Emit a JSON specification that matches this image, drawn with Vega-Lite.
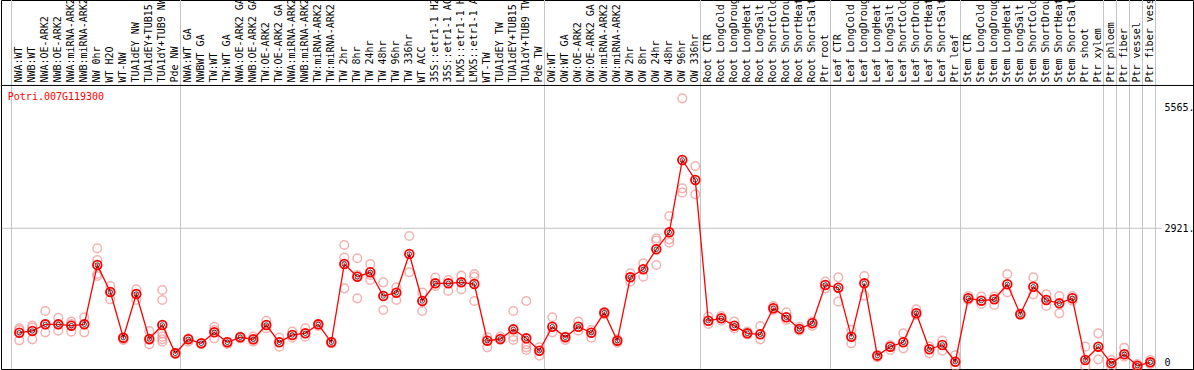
{
  "$schema": "https://vega.github.io/schema/vega-lite/v6.json",
  "width": 1192,
  "height": 369,
  "autosize": {"type": "none"},
  "padding": {"left": 1, "right": 1, "top": 0, "bottom": 1},
  "background": "white",
  "config": {
    "view": {"stroke": "black", "strokeWidth": 1},
    "axis": {"labelFont": "DejaVu Sans Mono", "labelFontSize": 10, "labelColor": "black"}
  },
  "data": {"values": [
      {"sample": "NWA:WT", "kind": "mean", "value": 797},
      {"sample": "NWB:WT", "kind": "mean", "value": 832},
      {"sample": "NWA:OE-ARK2", "kind": "mean", "value": 968},
      {"sample": "NWB:OE-ARK2", "kind": "mean", "value": 968},
      {"sample": "NWA:miRNA-ARK2", "kind": "mean", "value": 940},
      {"sample": "NWB:miRNA-ARK2", "kind": "mean", "value": 968},
      {"sample": "NW 0hr", "kind": "mean", "value": 2174},
      {"sample": "WT H2O", "kind": "mean", "value": 1625},
      {"sample": "WT-NW", "kind": "mean", "value": 696},
      {"sample": "TUA1dEY NW", "kind": "mean", "value": 1584},
      {"sample": "TUA1dEY+TUB15 NW", "kind": "mean", "value": 669},
      {"sample": "TUA1dY+TUB9 NW", "kind": "mean", "value": 954},
      {"sample": "Pde NW", "kind": "mean", "value": 378},
      {"sample": "NWA:WT GA", "kind": "mean", "value": 663},
      {"sample": "NWBWT GA", "kind": "mean", "value": 582},
      {"sample": "TW:WT", "kind": "mean", "value": 805},
      {"sample": "TW:WT GA", "kind": "mean", "value": 602},
      {"sample": "NWA:OE-ARK2 GA", "kind": "mean", "value": 704},
      {"sample": "NWB:OE-ARK2 GA", "kind": "mean", "value": 663},
      {"sample": "TW:OE-ARK2", "kind": "mean", "value": 954},
      {"sample": "TW:OE-ARK2 GA", "kind": "mean", "value": 602},
      {"sample": "NWA:miRNA-ARK2 GA", "kind": "mean", "value": 751},
      {"sample": "NWB:miRNA-ARK2 GA", "kind": "mean", "value": 785},
      {"sample": "TW:miRNA-ARK2", "kind": "mean", "value": 968},
      {"sample": "TW:miRNA-ARK2 GA", "kind": "mean", "value": 602},
      {"sample": "TW 2hr", "kind": "mean", "value": 2195},
      {"sample": "TW 8hr", "kind": "mean", "value": 1936},
      {"sample": "TW 24hr", "kind": "mean", "value": 2026},
      {"sample": "TW 48hr", "kind": "mean", "value": 1544},
      {"sample": "TW 96hr", "kind": "mean", "value": 1611},
      {"sample": "TW 336hr", "kind": "mean", "value": 2398},
      {"sample": "WT ACC", "kind": "mean", "value": 1442},
      {"sample": "35S::etr1-1 H2O", "kind": "mean", "value": 1802},
      {"sample": "35S::etr1-1 ACC", "kind": "mean", "value": 1802},
      {"sample": "LMX5::etr1-1 H2O", "kind": "mean", "value": 1822},
      {"sample": "LMX5::etr1-1 ACC", "kind": "mean", "value": 1788},
      {"sample": "WT-TW", "kind": "mean", "value": 635},
      {"sample": "TUA1dEY TW", "kind": "mean", "value": 669},
      {"sample": "TUA1dEY+TUB15 TW", "kind": "mean", "value": 866},
      {"sample": "TUA1dY+TUB9 TW", "kind": "mean", "value": 683},
      {"sample": "Pde TW", "kind": "mean", "value": 431},
      {"sample": "OW:WT", "kind": "mean", "value": 919},
      {"sample": "OW:WT GA", "kind": "mean", "value": 704},
      {"sample": "OW:OE-ARK2", "kind": "mean", "value": 919},
      {"sample": "OW:OE-ARK2 GA", "kind": "mean", "value": 797},
      {"sample": "OW:miRNA-ARK2", "kind": "mean", "value": 1204},
      {"sample": "OW:miRNA-ARK2 GA", "kind": "mean", "value": 635},
      {"sample": "OW 2hr", "kind": "mean", "value": 1924},
      {"sample": "OW 8hr", "kind": "mean", "value": 2087},
      {"sample": "OW 24hr", "kind": "mean", "value": 2494},
      {"sample": "OW 48hr", "kind": "mean", "value": 2839},
      {"sample": "OW 96hr", "kind": "mean", "value": 4310},
      {"sample": "OW 336hr", "kind": "mean", "value": 3903},
      {"sample": "Root CTR", "kind": "mean", "value": 1041},
      {"sample": "Root LongCold", "kind": "mean", "value": 1090},
      {"sample": "Root LongDrought", "kind": "mean", "value": 940},
      {"sample": "Root LongHeat", "kind": "mean", "value": 785},
      {"sample": "Root LongSalt", "kind": "mean", "value": 765},
      {"sample": "Root ShortCold", "kind": "mean", "value": 1294},
      {"sample": "Root ShortDrought", "kind": "mean", "value": 1111},
      {"sample": "Root ShortHeat", "kind": "mean", "value": 873},
      {"sample": "Root ShortSalt", "kind": "mean", "value": 989},
      {"sample": "Ptr root", "kind": "mean", "value": 1768},
      {"sample": "Leaf CTR", "kind": "mean", "value": 1713},
      {"sample": "Leaf LongCold", "kind": "mean", "value": 716},
      {"sample": "Leaf LongDrought", "kind": "mean", "value": 1802},
      {"sample": "Leaf LongHeat", "kind": "mean", "value": 330},
      {"sample": "Leaf LongSalt", "kind": "mean", "value": 513},
      {"sample": "Leaf ShortCold", "kind": "mean", "value": 602},
      {"sample": "Leaf ShortDrought", "kind": "mean", "value": 1192},
      {"sample": "Leaf ShortHeat", "kind": "mean", "value": 460},
      {"sample": "Leaf ShortSalt", "kind": "mean", "value": 547},
      {"sample": "Ptr leaf", "kind": "mean", "value": 207},
      {"sample": "Stem CTR", "kind": "mean", "value": 1497},
      {"sample": "Stem LongCold", "kind": "mean", "value": 1448},
      {"sample": "Stem LongDrought", "kind": "mean", "value": 1477},
      {"sample": "Stem LongHeat", "kind": "mean", "value": 1782},
      {"sample": "Stem LongSalt", "kind": "mean", "value": 1172},
      {"sample": "Stem ShortCold", "kind": "mean", "value": 1733},
      {"sample": "Stem ShortDrought", "kind": "mean", "value": 1462},
      {"sample": "Stem ShortHeat", "kind": "mean", "value": 1395},
      {"sample": "Stem ShortSalt", "kind": "mean", "value": 1497},
      {"sample": "Ptr shoot", "kind": "mean", "value": 242},
      {"sample": "Ptr xylem", "kind": "mean", "value": 513},
      {"sample": "Ptr phloem", "kind": "mean", "value": 175},
      {"sample": "Ptr fiber", "kind": "mean", "value": 358},
      {"sample": "Ptr vessel", "kind": "mean", "value": 126},
      {"sample": "Ptr fiber vessel", "kind": "mean", "value": 195},

      {"sample": "NWA:WT", "kind": "rep", "value": 887},
      {"sample": "NWA:WT", "kind": "rep", "value": 852},
      {"sample": "NWA:WT", "kind": "rep", "value": 643},
      {"sample": "NWB:WT", "kind": "rep", "value": 940},
      {"sample": "NWB:WT", "kind": "rep", "value": 899},
      {"sample": "NWB:WT", "kind": "rep", "value": 663},
      {"sample": "NWA:OE-ARK2", "kind": "rep", "value": 1239},
      {"sample": "NWA:OE-ARK2", "kind": "rep", "value": 968},
      {"sample": "NWA:OE-ARK2", "kind": "rep", "value": 805},
      {"sample": "NWB:OE-ARK2", "kind": "rep", "value": 1102},
      {"sample": "NWB:OE-ARK2", "kind": "rep", "value": 968},
      {"sample": "NWB:OE-ARK2", "kind": "rep", "value": 838},
      {"sample": "NWA:miRNA-ARK2", "kind": "rep", "value": 1021},
      {"sample": "NWA:miRNA-ARK2", "kind": "rep", "value": 974},
      {"sample": "NWA:miRNA-ARK2", "kind": "rep", "value": 818},
      {"sample": "NWB:miRNA-ARK2", "kind": "rep", "value": 1111},
      {"sample": "NWB:miRNA-ARK2", "kind": "rep", "value": 968},
      {"sample": "NWB:miRNA-ARK2", "kind": "rep", "value": 805},
      {"sample": "NW 0hr", "kind": "rep", "value": 2514},
      {"sample": "NW 0hr", "kind": "rep", "value": 2276},
      {"sample": "NW 0hr", "kind": "rep", "value": 1991},
      {"sample": "NW 0hr", "kind": "rep", "value": 1951},
      {"sample": "WT H2O", "kind": "rep", "value": 1747},
      {"sample": "WT H2O", "kind": "rep", "value": 1625},
      {"sample": "WT H2O", "kind": "rep", "value": 1477},
      {"sample": "WT-NW", "kind": "rep", "value": 696},
      {"sample": "WT-NW", "kind": "rep", "value": 663},
      {"sample": "WT-NW", "kind": "rep", "value": 649},
      {"sample": "TUA1dEY NW", "kind": "rep", "value": 1680},
      {"sample": "TUA1dEY NW", "kind": "rep", "value": 1584},
      {"sample": "TUA1dEY NW", "kind": "rep", "value": 1462},
      {"sample": "TUA1dEY+TUB15 NW", "kind": "rep", "value": 832},
      {"sample": "TUA1dEY+TUB15 NW", "kind": "rep", "value": 649},
      {"sample": "TUA1dEY+TUB15 NW", "kind": "rep", "value": 561},
      {"sample": "TUA1dY+TUB9 NW", "kind": "rep", "value": 1666},
      {"sample": "TUA1dY+TUB9 NW", "kind": "rep", "value": 1462},
      {"sample": "TUA1dY+TUB9 NW", "kind": "rep", "value": 785},
      {"sample": "TUA1dY+TUB9 NW", "kind": "rep", "value": 716},
      {"sample": "TUA1dY+TUB9 NW", "kind": "rep", "value": 663},
      {"sample": "TUA1dY+TUB9 NW", "kind": "rep", "value": 614},
      {"sample": "Pde NW", "kind": "rep", "value": 378},
      {"sample": "Pde NW", "kind": "rep", "value": 364},
      {"sample": "NWA:WT GA", "kind": "rep", "value": 683},
      {"sample": "NWA:WT GA", "kind": "rep", "value": 614},
      {"sample": "NWBWT GA", "kind": "rep", "value": 582},
      {"sample": "NWBWT GA", "kind": "rep", "value": 567},
      {"sample": "TW:WT", "kind": "rep", "value": 919},
      {"sample": "TW:WT", "kind": "rep", "value": 852},
      {"sample": "TW:WT", "kind": "rep", "value": 683},
      {"sample": "TW:WT GA", "kind": "rep", "value": 614},
      {"sample": "TW:WT GA", "kind": "rep", "value": 567},
      {"sample": "NWA:OE-ARK2 GA", "kind": "rep", "value": 716},
      {"sample": "NWA:OE-ARK2 GA", "kind": "rep", "value": 683},
      {"sample": "NWB:OE-ARK2 GA", "kind": "rep", "value": 716},
      {"sample": "NWB:OE-ARK2 GA", "kind": "rep", "value": 649},
      {"sample": "NWB:OE-ARK2 GA", "kind": "rep", "value": 614},
      {"sample": "TW:OE-ARK2", "kind": "rep", "value": 1041},
      {"sample": "TW:OE-ARK2", "kind": "rep", "value": 887},
      {"sample": "TW:OE-ARK2 GA", "kind": "rep", "value": 696},
      {"sample": "TW:OE-ARK2 GA", "kind": "rep", "value": 513},
      {"sample": "NWA:miRNA-ARK2 GA", "kind": "rep", "value": 818},
      {"sample": "NWA:miRNA-ARK2 GA", "kind": "rep", "value": 696},
      {"sample": "NWB:miRNA-ARK2 GA", "kind": "rep", "value": 887},
      {"sample": "NWB:miRNA-ARK2 GA", "kind": "rep", "value": 716},
      {"sample": "TW:miRNA-ARK2", "kind": "rep", "value": 968},
      {"sample": "TW:miRNA-ARK2", "kind": "rep", "value": 934},
      {"sample": "TW:miRNA-ARK2 GA", "kind": "rep", "value": 614},
      {"sample": "TW:miRNA-ARK2 GA", "kind": "rep", "value": 582},
      {"sample": "TW 2hr", "kind": "rep", "value": 2581},
      {"sample": "TW 2hr", "kind": "rep", "value": 2323},
      {"sample": "TW 2hr", "kind": "rep", "value": 1700},
      {"sample": "TW 8hr", "kind": "rep", "value": 2311},
      {"sample": "TW 8hr", "kind": "rep", "value": 1971},
      {"sample": "TW 8hr", "kind": "rep", "value": 1497},
      {"sample": "TW 24hr", "kind": "rep", "value": 2195},
      {"sample": "TW 24hr", "kind": "rep", "value": 1971},
      {"sample": "TW 24hr", "kind": "rep", "value": 1869},
      {"sample": "TW 48hr", "kind": "rep", "value": 1822},
      {"sample": "TW 48hr", "kind": "rep", "value": 1259},
      {"sample": "TW 96hr", "kind": "rep", "value": 1721},
      {"sample": "TW 96hr", "kind": "rep", "value": 1462},
      {"sample": "TW 336hr", "kind": "rep", "value": 2764},
      {"sample": "TW 336hr", "kind": "rep", "value": 2026},
      {"sample": "WT ACC", "kind": "rep", "value": 1611},
      {"sample": "WT ACC", "kind": "rep", "value": 1239},
      {"sample": "35S::etr1-1 H2O", "kind": "rep", "value": 1916},
      {"sample": "35S::etr1-1 H2O", "kind": "rep", "value": 1747},
      {"sample": "35S::etr1-1 ACC", "kind": "rep", "value": 1869},
      {"sample": "35S::etr1-1 ACC", "kind": "rep", "value": 1646},
      {"sample": "LMX5::etr1-1 H2O", "kind": "rep", "value": 1957},
      {"sample": "LMX5::etr1-1 H2O", "kind": "rep", "value": 1680},
      {"sample": "LMX5::etr1-1 ACC", "kind": "rep", "value": 1991},
      {"sample": "LMX5::etr1-1 ACC", "kind": "rep", "value": 1936},
      {"sample": "LMX5::etr1-1 ACC", "kind": "rep", "value": 1442},
      {"sample": "WT-TW", "kind": "rep", "value": 704},
      {"sample": "WT-TW", "kind": "rep", "value": 500},
      {"sample": "TUA1dEY TW", "kind": "rep", "value": 716},
      {"sample": "TUA1dEY TW", "kind": "rep", "value": 649},
      {"sample": "TUA1dEY+TUB15 TW", "kind": "rep", "value": 1239},
      {"sample": "TUA1dEY+TUB15 TW", "kind": "rep", "value": 716},
      {"sample": "TUA1dEY+TUB15 TW", "kind": "rep", "value": 649},
      {"sample": "TUA1dY+TUB9 TW", "kind": "rep", "value": 1442},
      {"sample": "TUA1dY+TUB9 TW", "kind": "rep", "value": 561},
      {"sample": "TUA1dY+TUB9 TW", "kind": "rep", "value": 500},
      {"sample": "TUA1dY+TUB9 TW", "kind": "rep", "value": 445},
      {"sample": "Pde TW", "kind": "rep", "value": 500},
      {"sample": "Pde TW", "kind": "rep", "value": 330},
      {"sample": "OW:WT", "kind": "rep", "value": 1111},
      {"sample": "OW:WT", "kind": "rep", "value": 805},
      {"sample": "OW:WT GA", "kind": "rep", "value": 716},
      {"sample": "OW:WT GA", "kind": "rep", "value": 649},
      {"sample": "OW:OE-ARK2", "kind": "rep", "value": 1021},
      {"sample": "OW:OE-ARK2", "kind": "rep", "value": 838},
      {"sample": "OW:OE-ARK2 GA", "kind": "rep", "value": 852},
      {"sample": "OW:OE-ARK2 GA", "kind": "rep", "value": 696},
      {"sample": "OW:miRNA-ARK2", "kind": "rep", "value": 1224},
      {"sample": "OW:miRNA-ARK2", "kind": "rep", "value": 1172},
      {"sample": "OW:miRNA-ARK2 GA", "kind": "rep", "value": 663},
      {"sample": "OW:miRNA-ARK2 GA", "kind": "rep", "value": 594},
      {"sample": "OW 2hr", "kind": "rep", "value": 2005},
      {"sample": "OW 2hr", "kind": "rep", "value": 1835},
      {"sample": "OW 8hr", "kind": "rep", "value": 2209},
      {"sample": "OW 8hr", "kind": "rep", "value": 1936},
      {"sample": "OW 24hr", "kind": "rep", "value": 2717},
      {"sample": "OW 24hr", "kind": "rep", "value": 2669},
      {"sample": "OW 24hr", "kind": "rep", "value": 2174},
      {"sample": "OW 48hr", "kind": "rep", "value": 3171},
      {"sample": "OW 48hr", "kind": "rep", "value": 2697},
      {"sample": "OW 48hr", "kind": "rep", "value": 2628},
      {"sample": "OW 96hr", "kind": "rep", "value": 5565},
      {"sample": "OW 96hr", "kind": "rep", "value": 3734},
      {"sample": "OW 96hr", "kind": "rep", "value": 3645},
      {"sample": "OW 336hr", "kind": "rep", "value": 4188},
      {"sample": "OW 336hr", "kind": "rep", "value": 3612},
      {"sample": "Root CTR", "kind": "rep", "value": 1123},
      {"sample": "Root CTR", "kind": "rep", "value": 974},
      {"sample": "Root LongCold", "kind": "rep", "value": 1137},
      {"sample": "Root LongCold", "kind": "rep", "value": 1041},
      {"sample": "Root LongDrought", "kind": "rep", "value": 1021},
      {"sample": "Root LongDrought", "kind": "rep", "value": 887},
      {"sample": "Root LongHeat", "kind": "rep", "value": 818},
      {"sample": "Root LongHeat", "kind": "rep", "value": 765},
      {"sample": "Root LongSalt", "kind": "rep", "value": 934},
      {"sample": "Root LongSalt", "kind": "rep", "value": 663},
      {"sample": "Root ShortCold", "kind": "rep", "value": 1340},
      {"sample": "Root ShortCold", "kind": "rep", "value": 1259},
      {"sample": "Root ShortDrought", "kind": "rep", "value": 1212},
      {"sample": "Root ShortDrought", "kind": "rep", "value": 1056},
      {"sample": "Root ShortHeat", "kind": "rep", "value": 919},
      {"sample": "Root ShortHeat", "kind": "rep", "value": 838},
      {"sample": "Root ShortSalt", "kind": "rep", "value": 1021},
      {"sample": "Root ShortSalt", "kind": "rep", "value": 934},
      {"sample": "Ptr root", "kind": "rep", "value": 1835},
      {"sample": "Ptr root", "kind": "rep", "value": 1700},
      {"sample": "Leaf CTR", "kind": "rep", "value": 1924},
      {"sample": "Leaf CTR", "kind": "rep", "value": 1428},
      {"sample": "Leaf LongCold", "kind": "rep", "value": 852},
      {"sample": "Leaf LongCold", "kind": "rep", "value": 582},
      {"sample": "Leaf LongDrought", "kind": "rep", "value": 1951},
      {"sample": "Leaf LongDrought", "kind": "rep", "value": 1550},
      {"sample": "Leaf LongHeat", "kind": "rep", "value": 344},
      {"sample": "Leaf LongHeat", "kind": "rep", "value": 297},
      {"sample": "Leaf LongSalt", "kind": "rep", "value": 547},
      {"sample": "Leaf LongSalt", "kind": "rep", "value": 445},
      {"sample": "Leaf ShortCold", "kind": "rep", "value": 785},
      {"sample": "Leaf ShortCold", "kind": "rep", "value": 480},
      {"sample": "Leaf ShortDrought", "kind": "rep", "value": 1273},
      {"sample": "Leaf ShortDrought", "kind": "rep", "value": 1157},
      {"sample": "Leaf ShortHeat", "kind": "rep", "value": 513},
      {"sample": "Leaf ShortHeat", "kind": "rep", "value": 378},
      {"sample": "Leaf ShortSalt", "kind": "rep", "value": 635},
      {"sample": "Leaf ShortSalt", "kind": "rep", "value": 431},
      {"sample": "Ptr leaf", "kind": "rep", "value": 344},
      {"sample": "Ptr leaf", "kind": "rep", "value": 120},
      {"sample": "Stem CTR", "kind": "rep", "value": 1544},
      {"sample": "Stem CTR", "kind": "rep", "value": 1462},
      {"sample": "Stem LongCold", "kind": "rep", "value": 1530},
      {"sample": "Stem LongCold", "kind": "rep", "value": 1381},
      {"sample": "Stem LongDrought", "kind": "rep", "value": 1530},
      {"sample": "Stem LongDrought", "kind": "rep", "value": 1361},
      {"sample": "Stem LongHeat", "kind": "rep", "value": 1991},
      {"sample": "Stem LongHeat", "kind": "rep", "value": 1619},
      {"sample": "Stem LongSalt", "kind": "rep", "value": 1192},
      {"sample": "Stem LongSalt", "kind": "rep", "value": 1157},
      {"sample": "Stem ShortCold", "kind": "rep", "value": 1924},
      {"sample": "Stem ShortCold", "kind": "rep", "value": 1578},
      {"sample": "Stem ShortDrought", "kind": "rep", "value": 1578},
      {"sample": "Stem ShortDrought", "kind": "rep", "value": 1340},
      {"sample": "Stem ShortHeat", "kind": "rep", "value": 1544},
      {"sample": "Stem ShortHeat", "kind": "rep", "value": 1192},
      {"sample": "Stem ShortSalt", "kind": "rep", "value": 1544},
      {"sample": "Stem ShortSalt", "kind": "rep", "value": 1448},
      {"sample": "Ptr shoot", "kind": "rep", "value": 513},
      {"sample": "Ptr shoot", "kind": "rep", "value": 106},
      {"sample": "Ptr xylem", "kind": "rep", "value": 785},
      {"sample": "Ptr xylem", "kind": "rep", "value": 256},
      {"sample": "Ptr phloem", "kind": "rep", "value": 242},
      {"sample": "Ptr phloem", "kind": "rep", "value": 106},
      {"sample": "Ptr fiber", "kind": "rep", "value": 492},
      {"sample": "Ptr fiber", "kind": "rep", "value": 309},
      {"sample": "Ptr vessel", "kind": "rep", "value": 161},
      {"sample": "Ptr vessel", "kind": "rep", "value": 100},
      {"sample": "Ptr fiber vessel", "kind": "rep", "value": 242},
      {"sample": "Ptr fiber vessel", "kind": "rep", "value": 161}
  ]},
  "encoding": {
    "x": {
      "field": "sample",
      "type": "nominal",
      "sort": null,
      "scale": {"type": "band", "paddingInner": 0, "paddingOuter": 0, "range": [11.8, 1155.8]},
      "axis": {
        "orient": "top",
        "offset": -85,
        "title": null,
        "ticks": false,
        "domain": false,
        "labelAngle": 270,
        "labelAlign": "left",
        "labelBaseline": "middle",
        "labelPadding": 3,
        "labelOverlap": false,
        "labelBound": false,
        "labelFlush": false,
        "labelLimit": 300,
        "grid": false
      }
    }
  },
  "layer": [
    {
      "transform": [{"filter": "datum.kind == 'rep'"}],
      "mark": {"type": "point", "shape": "circle", "filled": false, "size": 75, "strokeWidth": 1.5, "color": "#f09494"},
      "encoding": {
        "y": {
          "field": "value",
          "type": "quantitative",
          "scale": {"domain": [0, 5565], "range": [371.9, 98.3], "nice": false, "zero": false},
          "axis": {
            "orient": "right",
            "offset": -29,
            "title": null,
            "domain": false,
            "ticks": false,
            "grid": false,
            "values": [1, 2921, 5565],
            "labelExpr": "datum.value < 10 ? '0' : datum.value + '.'",
            "labelAlign": "left",
            "labelBaseline": "middle",
            "labelPadding": 0,
            "labelOffset": {"condition": [{"test": "datum.value < 10", "value": -9.5}, {"test": "datum.value == 5565", "value": 8.7}], "value": 0.7}
          }
        }
      }
    },
    {
      "transform": [{"filter": {"and": [{"field": "kind", "equal": "mean"}, {"field": "sample", "oneOf": ["NWA:WT", "NWA:WT GA", "OW:WT", "Root CTR", "Leaf CTR", "Stem CTR", "Ptr phloem", "Ptr fiber", "Ptr vessel", "Ptr fiber vessel"]}]}}],
      "mark": {"type": "rule", "color": "#c4c4c4", "strokeWidth": 1, "xOffset": -1.3},
      "encoding": {"x": {"field": "sample", "type": "nominal", "sort": null, "bandPosition": 0}}
    },
    {
      "transform": [{"filter": "datum.kind == 'mean' && datum.sample == 'Ptr fiber vessel'"}],
      "mark": {"type": "rule", "color": "#c4c4c4", "strokeWidth": 1, "xOffset": -1.3},
      "encoding": {"x": {"field": "sample", "type": "nominal", "sort": null, "bandPosition": 1}}
    },
    {
      "transform": [{"filter": "datum.kind == 'mean' && datum.sample == 'NWA:WT'"}],
      "mark": {"type": "rule", "color": "#c4c4c4", "strokeWidth": 1, "xOffset": -11, "x2Offset": 5},
      "encoding": {
        "x": {"datum": "NWA:WT", "type": "nominal", "bandPosition": 0},
        "x2": {"datum": "Ptr fiber vessel", "bandPosition": 1},
        "y": {"datum": 2921, "type": "quantitative"}
      }
    },
    {
      "transform": [{"filter": "datum.kind == 'mean' && datum.sample == 'NWA:WT'"}],
      "mark": {"type": "rule", "color": "black", "strokeWidth": 1, "xOffset": -12, "x2Offset": 38},
      "encoding": {
        "x": {"datum": "NWA:WT", "type": "nominal", "bandPosition": 0},
        "x2": {"datum": "Ptr fiber vessel", "bandPosition": 1},
        "y": {"datum": 5826, "type": "quantitative"}
      }
    },
    {
      "transform": [{"filter": "datum.kind == 'mean'"}],
      "mark": {"type": "line", "color": "#ff0000", "strokeWidth": 1.3},
      "encoding": {"y": {"field": "value", "type": "quantitative"}}
    },
    {
      "transform": [{"filter": "datum.kind == 'mean'"}],
      "mark": {"type": "point", "shape": "circle", "filled": false, "size": 75, "strokeWidth": 1.8, "color": "#ff0000", "opacity": 1},
      "encoding": {"y": {"field": "value", "type": "quantitative"}}
    },
    {
      "transform": [{"filter": "datum.kind == 'mean'"}],
      "mark": {"type": "point", "shape": "circle", "filled": false, "size": 20, "strokeWidth": 0.7, "color": "#000000", "opacity": 1},
      "encoding": {"y": {"field": "value", "type": "quantitative"}}
    },
    {
      "transform": [{"filter": "datum.kind == 'mean' && datum.sample == 'NWA:WT'"}],
      "mark": {"type": "text", "align": "left", "baseline": "middle", "font": "DejaVu Sans Mono", "fontSize": 10, "color": "#ff0000", "dx": -5},
      "encoding": {
        "x": {"datum": "NWA:WT", "type": "nominal", "bandPosition": 0},
        "y": {"datum": 5591, "type": "quantitative"},
        "text": {"value": "Potri.007G119300"}
      }
    }
  ]
}
